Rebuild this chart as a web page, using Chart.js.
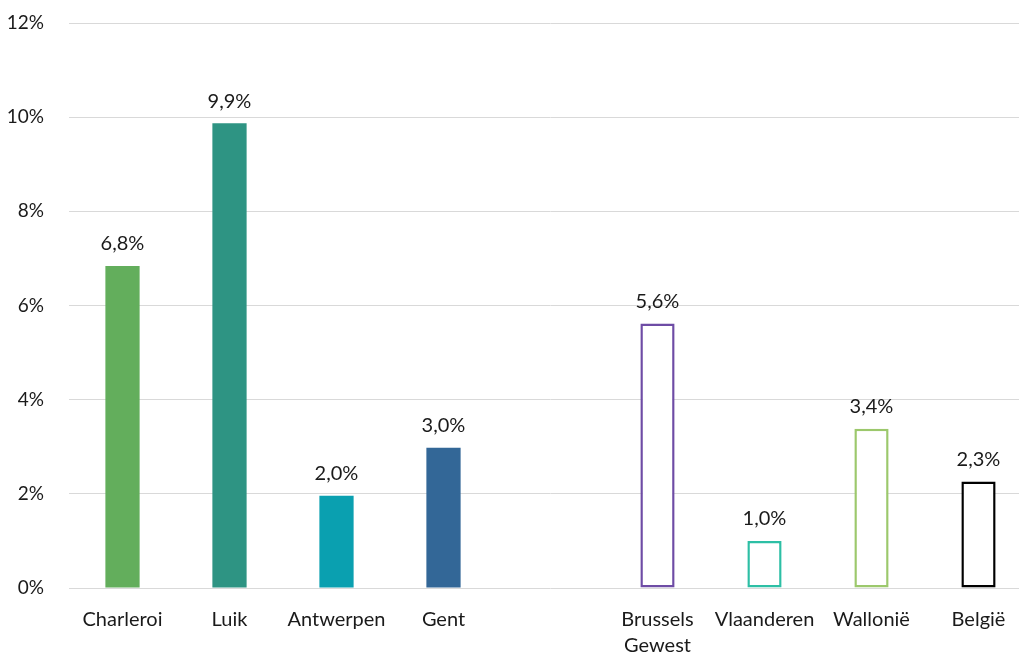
<!DOCTYPE html>
<html>
<head>
<meta charset="utf-8">
<script src="https://cdn.jsdelivr.net/npm/chart.js@4"></script>
<style>
  html, body { margin: 0; padding: 0; background: #fff; overflow: hidden; }
  #wrap { width: 1032px; height: 655px; }
</style>
</head>
<body>
<div id="wrap"><canvas id="bars"></canvas></div>
<script>
// categories (the empty one is the gap between cities and regions)
const categories = ['Charleroi', 'Luik', 'Antwerpen', 'Gent', '', ['Brussels', 'Gewest'], 'Vlaanderen', 'Wallonië', 'België'];
const values = [6.84, 9.87, 1.96, 2.98, null, 5.62, 1.0, 3.38, 2.26];
const yTicks = [0, 2, 4, 6, 8, 10, 12];

const fills = ['#63ae5c', '#2e9483', '#0aa0b0', '#336797', '#fff', '#fff', '#fff', '#fff', '#fff'];
const borders = ['#63ae5c', '#2e9483', '#0aa0b0', '#336797', '#fff', '#6e4ca5', '#2dbfa5', '#9cc86c', '#000'];
const borderW = [0, 0, 0, 0, 0, 2.5, 2.5, 2.5, 2.5];

const FONT = 'Lato, "Open Sans", sans-serif';

// draws the value above each bar
const valueLabels = {
  id: 'valueLabels',
  afterDatasetsDraw(chart) {
    const ctx = chart.ctx;
    const meta = chart.getDatasetMeta(0);
    ctx.save();
    ctx.font = '20px ' + FONT;
    ctx.fillStyle = '#1a1a1a';
    ctx.textAlign = 'center';
    ctx.textBaseline = 'middle';
    meta.data.forEach((bar, i) => {
      const v = values[i];
      if (v === null) return;
      ctx.fillText(v.toFixed(1).replace('.', ',') + '%', bar.x, bar.y - 22);
    });
    ctx.restore();
  }
};

new Chart(document.getElementById('bars'), {
  type: 'bar',
  data: {
    labels: categories,
    datasets: [{
      data: values,
      backgroundColor: fills,
      borderColor: borders,
      borderWidth: borderW,
      borderSkipped: false,
      barPercentage: 0.32,
      categoryPercentage: 1
    }]
  },
  options: {
    responsive: true,
    maintainAspectRatio: false,
    animation: false,
    layout: { padding: { top: 23, left: 0, right: 0, bottom: 0 } },
    plugins: { legend: { display: false }, tooltip: { enabled: false } },
    scales: {
      x: {
        afterFit(axis) { axis.height = 67; axis.paddingLeft = 0; axis.paddingRight = 0; },
        grid: { display: false, drawTicks: false },
        border: { display: false },
        ticks: { color: '#1a1a1a', font: { family: FONT, size: 20, lineHeight: 1.3 }, padding: 19, maxRotation: 0, autoSkip: false }
      },
      y: {
        min: 0,
        max: 12,
        afterBuildTicks(axis) { axis.ticks = yTicks.map(v => ({ value: v })); },
        afterFit(axis) { axis.width = 69; axis.paddingTop = 0; axis.paddingBottom = 0; },
        grid: { color: '#d9d9d9', lineWidth: 1, drawTicks: false },
        border: { display: false },
        ticks: {
          color: '#1a1a1a',
          font: { family: FONT, size: 19 },
          padding: 25,
          callback: v => v + '%'
        }
      }
    }
  },
  plugins: [valueLabels]
});
</script>
</body>
</html>
